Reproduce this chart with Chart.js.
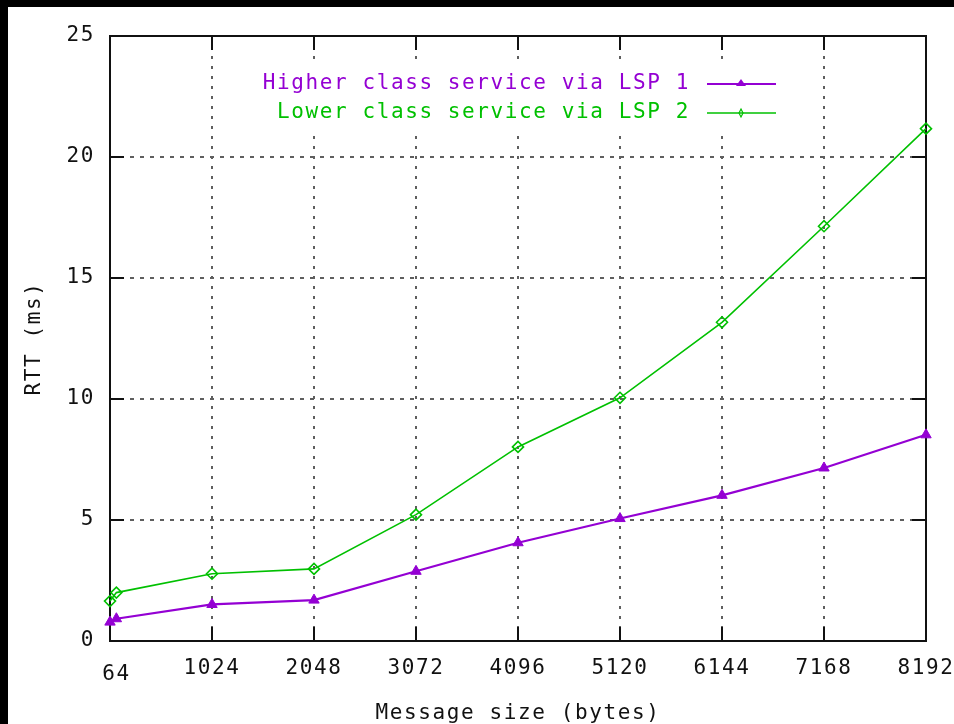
<!DOCTYPE html>
<html>
<head>
<meta charset="utf-8">
<script src="https://cdn.jsdelivr.net/npm/chart.js@4.4.1/dist/chart.umd.min.js"></script>
<style>
  html, body { margin: 0; padding: 0; background: #000; overflow: hidden; width: 954px; height: 724px; }
  #wrap { position: absolute; left: 8px; top: 7px; width: 992px; height: 760px; background: #fff; }
  canvas { display: block; }
</style>
</head>
<body>
<div id="wrap"><canvas id="c" width="992" height="760"></canvas></div>
<script>
// ---- data ----
const messageSizes = [0, 64, 1024, 2048, 3072, 4096, 5120, 6144, 7168, 8192];
const higherClassRTT = [0.78, 0.92, 1.51, 1.69, 2.88, 4.06, 5.06, 6.02, 7.15, 8.52];
const lowerClassRTT  = [1.65, 2.00, 2.78, 2.98, 5.22, 8.02, 10.05, 13.17, 17.14, 21.17];
const seriesLabels = ['Higher class service via LSP 1', 'Lower class service via LSP 2'];
const xTickValues = [64, 1024, 2048, 3072, 4096, 5120, 6144, 7168, 8192];
const xTickLabels = ['64', '1024', '2048', '3072', '4096', '5120', '6144', '7168', '8192'];
const yTickValues = [0, 5, 10, 15, 20, 25];
const xTitle = 'Message size (bytes)';
const yTitle = 'RTT (ms)';

// ---- styles ----
const PURPLE = '#9400d3';
const GREEN = '#00c000';
const FONT = 'DejaVu Sans Mono';
const FS = 21;
const LS = '1.6px';
const GRID = '#5e5e5e';

const toPoints = (ys) => messageSizes.map((x, i) => ({ x, y: ys[i] }));

const framePlugin = {
  id: 'frame',
  beforeDraw(chart) {
    chart.ctx.letterSpacing = LS;
  },
  beforeDatasetsDraw(chart) {
    const { ctx, chartArea: a, scales } = chart;
    const xs = scales.x, ys = scales.y;
    ctx.save();
    // key area is kept clear of the grid
    ctx.fillStyle = '#fff';
    ctx.fillRect(244, 58, 532, 64);
    ctx.strokeStyle = '#111';
    ctx.lineWidth = 2;
    ctx.beginPath();
    xTickValues.forEach(v => {
      if (v === 64 || v === 8192) return;
      const px = Math.round(xs.getPixelForValue(v));
      ctx.moveTo(px, a.top); ctx.lineTo(px, a.top + 14);
      ctx.moveTo(px, a.bottom); ctx.lineTo(px, a.bottom - 14);
    });
    yTickValues.forEach(v => {
      if (v === 0 || v === 25) return;
      const py = Math.round(ys.getPixelForValue(v));
      ctx.moveTo(a.left, py); ctx.lineTo(a.left + 14, py);
      ctx.moveTo(a.right, py); ctx.lineTo(a.right - 14, py);
    });
    ctx.stroke();
    ctx.strokeRect(Math.round(a.left), Math.round(a.top), Math.round(a.right - a.left), Math.round(a.bottom - a.top));
    ctx.restore();
  },
  afterDraw(chart) {
    const { ctx } = chart;
    const rows = [77, 106];
    ctx.save();
    ctx.letterSpacing = LS;
    ctx.font = FS + 'px "' + FONT + '"';
    ctx.textAlign = 'right';
    ctx.textBaseline = 'middle';
    chart.data.datasets.forEach((ds, i) => {
      const yy = rows[i];
      ctx.fillStyle = ds.borderColor;
      ctx.fillText(ds.label, 682, yy);
      ctx.strokeStyle = ds.borderColor;
      ctx.lineWidth = ds.borderWidth;
      ctx.beginPath();
      ctx.moveTo(699, yy); ctx.lineTo(768, yy);
      ctx.stroke();
      // marker
      ctx.beginPath();
      if (i === 0) {
        ctx.fillStyle = ds.borderColor;
        ctx.moveTo(733, yy - 5); ctx.lineTo(738, yy + 2); ctx.lineTo(728, yy + 2); ctx.closePath();
        ctx.fill();
      } else {
        ctx.lineWidth = 1.2;
        ctx.moveTo(733, yy - 4); ctx.lineTo(735, yy); ctx.lineTo(733, yy + 4); ctx.lineTo(731, yy); ctx.closePath();
        ctx.stroke();
      }
    });
    ctx.restore();
  }
};

new Chart(document.getElementById('c'), {
  type: 'line',
  data: {
    datasets: [
      {
        label: seriesLabels[0],
        data: toPoints(higherClassRTT),
        borderColor: PURPLE,
        backgroundColor: PURPLE,
        borderWidth: 2.2,
        pointStyle: 'triangle',
        pointRadius: 6,
        pointBackgroundColor: PURPLE,
        pointBorderColor: PURPLE,
        pointBorderWidth: 1,
        tension: 0,
        clip: false
      },
      {
        label: seriesLabels[1],
        data: toPoints(lowerClassRTT),
        borderColor: GREEN,
        backgroundColor: GREEN,
        borderWidth: 1.6,
        pointStyle: 'rectRot',
        pointRadius: 5.5,
        pointBackgroundColor: 'rgba(255,255,255,0)',
        pointBorderColor: GREEN,
        pointBorderWidth: 1.6,
        tension: 0,
        clip: false
      }
    ]
  },
  options: {
    responsive: false,
    animation: false,
    devicePixelRatio: 1,
    layout: { padding: { left: 0, top: 29, right: 74, bottom: 0 } },
    plugins: {
      legend: { display: false },
      tooltip: { enabled: false }
    },
    elements: { line: { tension: 0 } },
    scales: {
      x: {
        type: 'linear',
        min: 0,
        max: 8192,
        afterBuildTicks(scale) {
          scale.ticks = xTickValues.map(v => ({ value: v }));
        },
        afterFit(scale) { scale.height = 126; },
        ticks: {
          autoSkip: false,
          maxRotation: 0,
          minRotation: 0,
          padding: 15,
          color: '#111',
          font: (ctx) => ({
            family: FONT,
            size: FS,
            lineHeight: (ctx.tick && ctx.tick.value === 64) ? 0.6 : 1.2
          }),
          callback: (value) => {
            const idx = xTickValues.indexOf(value);
            const lab = idx >= 0 ? xTickLabels[idx] : '';
            return value === 64 ? ['', lab] : lab;
          }
        },
        grid: {
          drawTicks: false,
          lineWidth: 2,
          color: (ctx) => {
            const v = ctx.tick ? ctx.tick.value : null;
            return (v === 64 || v === 0 || v === 8192) ? 'rgba(0,0,0,0)' : GRID;
          }
        },
        border: { display: false, dash: [3, 7] },
        title: {
          display: true,
          text: xTitle,
          color: '#111',
          font: { family: FONT, size: FS, lineHeight: 1.2 },
          padding: { top: 0, bottom: 41 }
        }
      },
      y: {
        type: 'linear',
        min: 0,
        max: 25,
        afterBuildTicks(scale) {
          scale.ticks = yTickValues.map(v => ({ value: v }));
        },
        afterFit(scale) { scale.width = 102; },
        ticks: {
          padding: 15,
          color: '#111',
          font: { family: FONT, size: FS, lineHeight: 1.2 },
          callback: (value) => String(value)
        },
        grid: {
          drawTicks: false,
          lineWidth: 2,
          color: (ctx) => {
            const v = ctx.tick ? ctx.tick.value : null;
            return (v === 0 || v === 25) ? 'rgba(0,0,0,0)' : GRID;
          }
        },
        border: { display: false, dash: [4, 6] },
        title: {
          display: true,
          text: yTitle,
          color: '#111',
          font: { family: FONT, size: FS, lineHeight: 1.2 },
          padding: { top: 14, bottom: 0 }
        }
      }
    }
  },
  plugins: [framePlugin]
});
</script>
</body>
</html>
